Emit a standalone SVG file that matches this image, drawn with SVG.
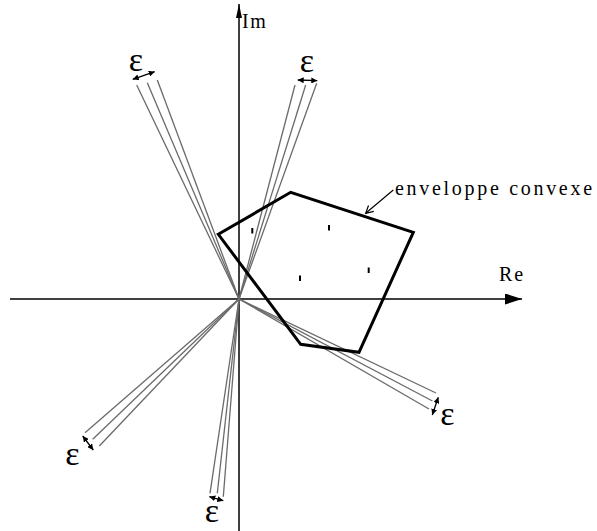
<svg xmlns="http://www.w3.org/2000/svg" width="597" height="531" viewBox="0 0 597 531">
<defs>
<marker id="ah" viewBox="0 0 10 10" refX="10" refY="5" markerWidth="6" markerHeight="6" markerUnits="userSpaceOnUse" orient="auto-start-reverse">
<path d="M0,0 L10,5 L0,10 Z" fill="#000"/>
</marker>
<marker id="axh" viewBox="0 0 10 10" refX="10" refY="5" markerWidth="17" markerHeight="11" markerUnits="userSpaceOnUse" orient="auto" preserveAspectRatio="none">
<path d="M0,0 L10,5 L0,10 Z" fill="#000"/>
</marker>
<marker id="ayh" viewBox="0 0 10 10" refX="10" refY="5" markerWidth="14" markerHeight="6" markerUnits="userSpaceOnUse" orient="auto" preserveAspectRatio="none">
<path d="M0,0 L10,5 L0,10 Z" fill="#000"/>
</marker>
</defs>
<style>
.ray{stroke:#6a6a6a;stroke-width:1.3;fill:none}
.eps{font-family:"Liberation Serif",serif;font-size:34px;fill:#000;text-anchor:middle}
.dbl{stroke:#000;stroke-width:1.3;marker-start:url(#ah);marker-end:url(#ah)}
.lbl{font-family:"Liberation Serif",serif;fill:#000}
.pt{fill:#000}
</style>
<rect width="597" height="531" fill="#fff"/>
<g id="axes">
<line x1="10" y1="299" x2="522" y2="299" stroke="#000" stroke-width="1.5" marker-end="url(#axh)"/>
<line x1="239" y1="531" x2="239" y2="4" stroke="#000" stroke-width="1.5" marker-end="url(#ayh)"/>
<text class="lbl" x="242" y="28" font-size="20" letter-spacing="1.5">Im</text>
<text class="lbl" x="499" y="281" font-size="20" letter-spacing="2">Re</text>
</g>
<g id="connectors">
<g id="bundle-ul">
<line class="ray" x1="239" y1="299" x2="136.7" y2="85"/>
<line class="ray" x1="239" y1="299" x2="147.3" y2="82.7"/>
<line class="ray" x1="239" y1="299" x2="157.3" y2="80"/>
<line class="dbl" x1="132.7" y1="79.3" x2="154.7" y2="71.7"/>
<text class="eps" x="136" y="71">ε</text>
</g>
<g id="bundle-ur">
<line class="ray" x1="239" y1="299" x2="295" y2="85"/>
<line class="ray" x1="239" y1="299" x2="305.7" y2="85"/>
<line class="ray" x1="239" y1="299" x2="316.7" y2="83.3"/>
<line class="dbl" x1="297.7" y1="80" x2="317.3" y2="80.7"/>
<text class="eps" x="307" y="72">ε</text>
</g>
<g id="bundle-lr">
<line class="ray" x1="239" y1="299" x2="436" y2="393"/>
<line class="ray" x1="239" y1="299" x2="432.5" y2="401"/>
<line class="ray" x1="239" y1="299" x2="429" y2="409"/>
<line class="dbl" x1="438.3" y1="397.3" x2="432.3" y2="415"/>
<text class="eps" x="447.5" y="425">ε</text>
</g>
<g id="bundle-ll">
<line class="ray" x1="239" y1="299" x2="85" y2="432.7"/>
<line class="ray" x1="239" y1="299" x2="92.7" y2="439.3"/>
<line class="ray" x1="239" y1="299" x2="99.3" y2="446"/>
<line class="dbl" x1="82.7" y1="436" x2="93.3" y2="450"/>
<text class="eps" x="72.5" y="465">ε</text>
</g>
<g id="bundle-b">
<line class="ray" x1="239" y1="299" x2="210" y2="493.3"/>
<line class="ray" x1="239" y1="299" x2="217.3" y2="493.3"/>
<line class="ray" x1="239" y1="299" x2="223.3" y2="496.7"/>
<line class="dbl" x1="209.3" y1="496.7" x2="223.3" y2="500.7"/>
<text class="eps" x="212" y="522">ε</text>
</g>
<g id="hull-pointer">
<line x1="393.3" y1="190" x2="365.7" y2="213.3" stroke="#000" stroke-width="1.2"/>
<path d="M368.5,205.5 L365.7,213.3 L373.8,211.3" fill="none" stroke="#000" stroke-width="1.2"/>
</g>
</g>
<g id="hull">
<polygon points="218.3,234.3 290.7,192.3 413.3,232.3 359,352.3 300.7,344.3" fill="none" stroke="#000" stroke-width="3" stroke-linejoin="miter"/>
<text class="lbl" x="395" y="195" font-size="20" letter-spacing="2.7">enveloppe convexe</text>
</g>
<g id="points">
<rect class="pt" x="251.3" y="228" width="2" height="5.5"/>
<rect class="pt" x="328" y="225" width="2" height="5.5"/>
<rect class="pt" x="299" y="275.5" width="2" height="5.5"/>
<rect class="pt" x="367.7" y="267.5" width="2" height="5.5"/>
</g>
</svg>
